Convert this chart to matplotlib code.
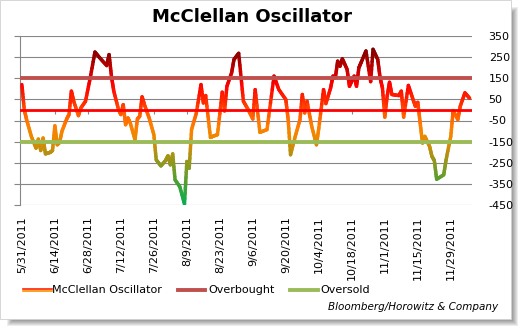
import matplotlib
matplotlib.use("Agg")
import matplotlib.pyplot as plt
import matplotlib.dates as mdates
import numpy as np
import pandas as pd
from matplotlib.collections import LineCollection
from matplotlib.colors import LinearSegmentedColormap, Normalize
from matplotlib.lines import Line2D
from matplotlib.patches import Rectangle

plt.rcParams["font.family"] = ["DejaVu Sans"]
plt.rcParams["axes.unicode_minus"] = False

# McClellan oscillator readings
dates = [
    "2011-05-31", "2011-06-01", "2011-06-02", "2011-06-04", "2011-06-06", "2011-06-07",
    "2011-06-08", "2011-06-09", "2011-06-10", "2011-06-12", "2011-06-13", "2011-06-14",
    "2011-06-15", "2011-06-16", "2011-06-17", "2011-06-19", "2011-06-20", "2011-06-21",
    "2011-06-22", "2011-06-24", "2011-06-25", "2011-06-27", "2011-06-29", "2011-07-01",
    "2011-07-03", "2011-07-06", "2011-07-07", "2011-07-08", "2011-07-09", "2011-07-11",
    "2011-07-12", "2011-07-13", "2011-07-14", "2011-07-15", "2011-07-16", "2011-07-18",
    "2011-07-19", "2011-07-20", "2011-07-21", "2011-07-22", "2011-07-24", "2011-07-26",
    "2011-07-27", "2011-07-29", "2011-07-31", "2011-08-01", "2011-08-02", "2011-08-03",
    "2011-08-04", "2011-08-06", "2011-08-08", "2011-08-09", "2011-08-10", "2011-08-11",
    "2011-08-13", "2011-08-15", "2011-08-16", "2011-08-17", "2011-08-19", "2011-08-20",
    "2011-08-22", "2011-08-24", "2011-08-25", "2011-08-26", "2011-08-28", "2011-08-29",
    "2011-08-31", "2011-09-02", "2011-09-04", "2011-09-06", "2011-09-07", "2011-09-09",
    "2011-09-12", "2011-09-15", "2011-09-17", "2011-09-20", "2011-09-21", "2011-09-22",
    "2011-09-24", "2011-09-26", "2011-09-27", "2011-09-28", "2011-09-29", "2011-10-01",
    "2011-10-03", "2011-10-04", "2011-10-06", "2011-10-07", "2011-10-09", "2011-10-10",
    "2011-10-11", "2011-10-12", "2011-10-13", "2011-10-14", "2011-10-16", "2011-10-17",
    "2011-10-19", "2011-10-20", "2011-10-21", "2011-10-22", "2011-10-24", "2011-10-26",
    "2011-10-27", "2011-10-29", "2011-10-30", "2011-10-31", "2011-11-01", "2011-11-02",
    "2011-11-03", "2011-11-04", "2011-11-07", "2011-11-08", "2011-11-09", "2011-11-11",
    "2011-11-13", "2011-11-14", "2011-11-15", "2011-11-16", "2011-11-17", "2011-11-18",
    "2011-11-20", "2011-11-21", "2011-11-22", "2011-11-23", "2011-11-26", "2011-11-27",
    "2011-11-29", "2011-11-30", "2011-12-02", "2011-12-03", "2011-12-05", "2011-12-07",
]
oscillator = [
    120, 2, -46, -125, -181, -138,
    -192, -133, -208, -201, -192, -75,
    -165, -154, -101, -43, -22, 89,
    41, -27, 9, 41, 152, 274,
    247, 210, 262, 160, 89, 2,
    -22, 25, -70, -38, -62, -141,
    -43, -30, 62, 25, -38, -117,
    -236, -265, -239, -217, -260, -208,
    -331, -363, -445, -244, -276, -93,
    -16, 120, 33, 68, -130, -125,
    -117, 84, -5, 112, 176, 239,
    268, 41, 2, -43, 96, -106,
    -93, 160, 97, 49, -46, -212,
    -125, -46, 73, -14, 41, -78,
    -165, -86, 96, 30, 104, 160,
    152, 231, 207, 242, 192, 112,
    160, 112, 200, 226, 279, 134,
    287, 239, 152, 104, -34, 65,
    131, 73, 68, 89, -34, 116,
    49, 17, 36, -62, -157, -125,
    -173, -220, -239, -328, -307, -236,
    -125, -3, -46, 17, 81, 55,
]
overbought = 150
oversold = -150

tick_labels = [
    "5/31/2011", "6/14/2011", "6/28/2011", "7/12/2011", "7/26/2011", "8/9/2011",
    "8/23/2011", "9/6/2011", "9/20/2011", "10/4/2011", "10/18/2011", "11/1/2011",
    "11/15/2011", "11/29/2011",
]
y_ticks = [350, 250, 150, 50, -50, -150, -250, -350, -450]

W, H = 524, 333
fig = plt.figure(figsize=(W / 100, H / 100), dpi=100)
fig.patch.set_facecolor("white")

# drop shadow + white chart box
for k in range(6):
    fig.add_artist(Rectangle(((7 + k) / W, (7 + k) / H), (511 - 2 * k) / W, (319 - 2 * k) / H,
                             transform=fig.transFigure, facecolor="#000000", alpha=0.07,
                             edgecolor="none", zorder=0))
fig.add_artist(Rectangle((0, 14 / H), 511 / W, 319 / H, transform=fig.transFigure,
                         facecolor="white", edgecolor="#d0d0d0", linewidth=0.6, zorder=0.5))

ax = fig.add_axes([20 / W, 1 - 205 / H, 452 / W, 169 / H])
ax.set_zorder(2)
ax.set_facecolor("none")

x = mdates.date2num(pd.to_datetime(dates))
y = np.array(oscillator, dtype=float)

# gradient along the value axis: green (low) -> orange -> red -> dark red (high)
vmin, vmax = -450, 300
stops = [
    (-450, "#00b050"), (-340, "#50a030"), (-260, "#8a9a20"), (-200, "#b89010"),
    (-140, "#e88a00"), (-80, "#ff8000"), (-20, "#ff6000"), (40, "#ff2a00"),
    (120, "#ff0000"), (180, "#d00000"), (240, "#a00000"), (300, "#780000"),
]
cmap = LinearSegmentedColormap.from_list(
    "osc", [((v - vmin) / (vmax - vmin), c) for v, c in stops])
norm = Normalize(vmin, vmax)

segs, mids = [], []
for i in range(len(x) - 1):
    xs = np.linspace(x[i], x[i + 1], 9)
    ys = np.linspace(y[i], y[i + 1], 9)
    for j in range(8):
        segs.append([(xs[j], ys[j]), (xs[j + 1], ys[j + 1])])
        mids.append((ys[j] + ys[j + 1]) / 2)
lc = LineCollection(segs, cmap=cmap, norm=norm, linewidths=2.5, capstyle="round",
                    joinstyle="round", zorder=3)
lc.set_array(np.array(mids))
ax.add_collection(lc)

ax.axhline(overbought, color="#c0504d", lw=2.8, zorder=4)
ax.axhline(oversold, color="#9bbb59", lw=2.8, zorder=4)
ax.axhline(0, color="#ff0000", lw=2.0, zorder=5)

tick_x = mdates.date2num(pd.to_datetime(tick_labels, format="%m/%d/%Y"))
ax.vlines(tick_x[1:], -19, 0, color="#868686", lw=0.8, zorder=2)

ax.set_xlim(x[0] - 0.8, x[0] + 191)
ax.set_ylim(-450, 350)
ax.set_yticks(y_ticks)
ax.set_yticklabels([str(v) for v in y_ticks])
ax.yaxis.grid(True, color="#868686", lw=0.8)
ax.set_axisbelow(True)
ax.tick_params(axis="y", which="both", left=True, right=False, labelleft=False, labelright=True,
               direction="out", length=4, color="#868686", labelsize=8, pad=8)
ax.set_xticks(tick_x)
ax.set_xticklabels(tick_labels, rotation=90, fontsize=8, va="top", ha="center")
ax.tick_params(axis="x", length=0, pad=8)
for s in ["top", "right", "bottom"]:
    ax.spines[s].set_visible(False)
ax.spines["left"].set_color("#868686")
ax.spines["left"].set_linewidth(0.8)

fig.text(252 / W, 1 - 17 / H, "McClellan Oscillator", ha="center", va="center",
         fontsize=13, fontweight="bold", zorder=3)

# legend
ly = 1 - 290 / H
fig.add_artist(Line2D([23 / W, 52 / W], [ly + 1 / H, ly + 1 / H], transform=fig.transFigure, color="#ff2000", lw=1.2, zorder=3))
fig.add_artist(Line2D([23 / W, 52 / W], [ly - 0.5 / H, ly - 0.5 / H], transform=fig.transFigure, color="#ff9000", lw=1.2, zorder=3))
fig.add_artist(Line2D([178 / W, 205 / W], [ly, ly], transform=fig.transFigure, color="#c0504d", lw=2.8, zorder=3))
fig.add_artist(Line2D([290 / W, 318 / W], [ly, ly], transform=fig.transFigure, color="#9bbb59", lw=2.8, zorder=3))
fig.text(52 / W, ly, "McClellan Oscillator", ha="left", va="center", fontsize=8, zorder=3)
fig.text(208 / W, ly, "Overbought", ha="left", va="center", fontsize=8, zorder=3)
fig.text(320 / W, ly, "Oversold", ha="left", va="center", fontsize=8, zorder=3)
fig.text(498 / W, 1 - 307 / H, "Bloomberg/Horowitz & Company", ha="right", va="center",
         fontsize=7.5, style="italic", zorder=3)

fig.savefig("out.png", dpi=100)
